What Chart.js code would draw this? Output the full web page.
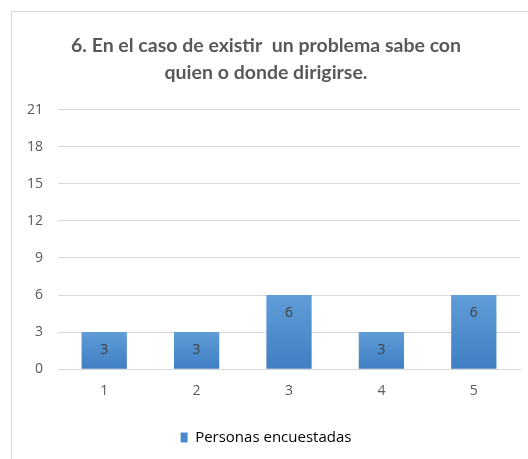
<!DOCTYPE html>
<html>
<head>
<meta charset="utf-8">
<script src="https://cdn.jsdelivr.net/npm/chart.js@4/dist/chart.umd.min.js"></script>
<style>
  html, body { margin: 0; padding: 0; background: #fff; overflow: hidden; }
  #frame { position: absolute; left: 11px; top: 11px; width: 600px; height: 500px; border: 1px solid #d9d9d9; }
  #wrap { position: absolute; left: 0; top: 0; width: 528px; height: 459px; }
</style>
</head>
<body>
<div id="frame"></div>
<div id="wrap"><canvas id="myChart" width="528" height="459"></canvas></div>
<script>
'use strict';

let categories = ['1', '2', '3', '4', '5'];
let personas = [3, 3, 6, 3, 6];
let seriesName = 'Personas encuestadas';
let titleLines = ['6. En el caso de existir  un problema sabe con', 'quien o donde dirigirse.'];
let yTicks = [0, 3, 6, 9, 12, 15, 18, 21];

let fontFam = '"Open Sans", Lato, sans-serif';

// gradient per bar, lighter on top
function barFill(ctx) {
  let chart = ctx.chart;
  let y = chart.scales.y;
  if (!y || ctx.parsed === undefined) return '#5b9bd5';
  let top = y.getPixelForValue(ctx.parsed.y);
  let bottom = y.getPixelForValue(0);
  let g = chart.ctx.createLinearGradient(0, top, 0, bottom);
  g.addColorStop(0, '#5f9cd8');
  g.addColorStop(1, '#3f7fc2');
  return g;
}

let valueLabels = {
  id: 'valueLabels',
  afterDatasetsDraw(chart) {
    let c = chart.ctx;
    let meta = chart.getDatasetMeta(0);
    c.save();
    c.font = '14px ' + fontFam;
    c.fillStyle = '#404040';
    c.textAlign = 'center';
    c.textBaseline = 'middle';
    meta.data.forEach(function(bar, i) {
      c.fillText(String(personas[i]), bar.x, bar.y + 18);
    });
    c.restore();
  }
};

let ctx = document.getElementById('myChart').getContext('2d');

let myChart = new Chart(ctx, {
  type: 'bar',
  data: {
    labels: categories,
    datasets: [{
      label: seriesName,
      data: personas,
      backgroundColor: barFill,
      borderWidth: 0,
      categoryPercentage: 1,
      barPercentage: 0.49
    }]
  },
  options: {
    responsive: false,
    animation: false,
    layout: { padding: { left: 12, right: 8, top: 32, bottom: 4 } },
    plugins: {
      title: {
        display: true,
        text: titleLines,
        color: '#595959',
        font: { family: 'Lato, "Open Sans", sans-serif', size: 19.5, weight: 'bold', lineHeight: 1.4 },
        padding: { top: 0, bottom: 23 }
      },
      legend: {
        position: 'bottom',
        labels: {
          color: '#595959',
          font: { family: fontFam, size: 15 },
          boxWidth: 7,
          boxHeight: 10,
          padding: 18,
          generateLabels: function(chart) {
            return [{ text: seriesName, fillStyle: '#4a8acd', strokeStyle: '#4a8acd', lineWidth: 0, datasetIndex: 0 }];
          }
        }
      },
      tooltip: { enabled: false }
    },
    scales: {
      x: {
        grid: { display: false, drawTicks: false },
        border: { display: true, color: '#d9d9d9', width: 1 },
        ticks: { color: '#595959', font: { family: fontFam, size: 14 }, padding: 13 }
      },
      y: {
        min: 0,
        max: 21,
        afterBuildTicks: function(axis) { axis.ticks = yTicks.map(function(v) { return { value: v }; }); },
        grid: { color: '#d9d9d9', drawTicks: false },
        border: { display: false },
        ticks: { color: '#595959', font: { family: fontFam, size: 14 }, padding: 15 }
      }
    }
  },
  plugins: [valueLabels]
});
</script>
</body>
</html>
